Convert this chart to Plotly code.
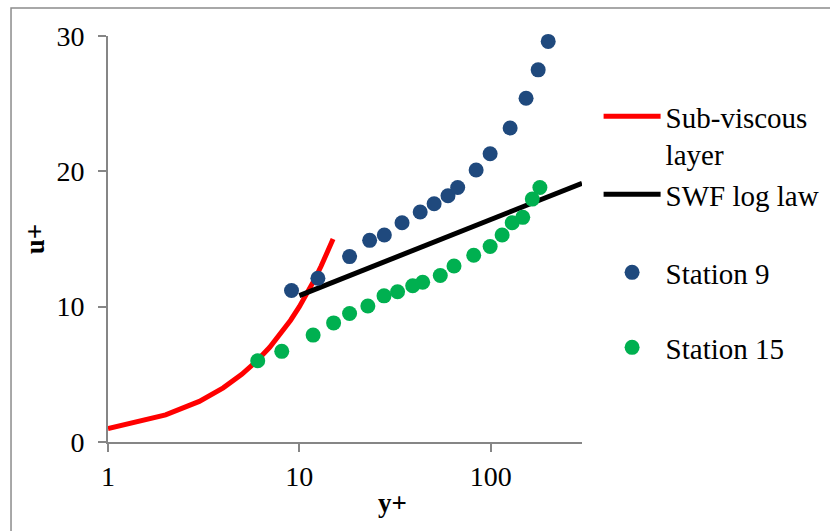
import plotly.graph_objects as go

# Sub-viscous layer (u+ = y+)
sub_y = [1, 2, 3, 4, 5, 6, 7, 8, 9, 10, 11, 12, 13, 14, 15]
sub_u = [1, 2, 3, 4, 5, 6, 7, 8, 9, 10, 11, 12, 13, 14, 15]

# SWF log law
swf_y = [10, 12, 15, 20, 25, 30, 40, 50, 60, 70, 80, 100, 120, 150, 200, 250, 300]
swf_u = [10.82, 11.26, 11.81, 12.51, 13.05, 13.50, 14.20, 14.75, 15.19, 15.57,
         15.89, 16.44, 16.88, 17.43, 18.13, 18.67, 19.12]

# Station 9
s9_y = [9.1, 12.5, 18.3, 23.3, 27.8, 34.4, 42.8, 50.6, 59.8, 67.2, 83.9, 99.3,
        126.3, 153, 177, 199.7]
s9_u = [11.2, 12.1, 13.7, 14.9, 15.3, 16.2, 17.0, 17.6, 18.2, 18.8, 20.1, 21.3,
        23.2, 25.4, 27.5, 29.6]

# Station 15
s15_y = [6.06, 8.09, 11.8, 15.1, 18.3, 22.8, 27.7, 32.6, 39.1, 44.1, 54.5, 64.3,
         81.5, 99.3, 114.7, 129.5, 147, 164.9, 180.7]
s15_u = [6.0, 6.7, 7.9, 8.8, 9.5, 10.05, 10.8, 11.1, 11.55, 11.8, 12.3, 13.0,
         13.8, 14.45, 15.3, 16.2, 16.6, 17.95, 18.8]

x_ticks = [1, 10, 100]
x_ticktext = ["1", "10", "100"]
y_ticks = [0, 10, 20, 30]

FONT = "Liberation Serif"
AXIS_COLOR = "#868686"

fig = go.Figure()
fig.add_trace(go.Scatter(x=sub_y, y=sub_u, mode="lines", name="Sub-viscous<br>layer",
                         line=dict(color="#FF0000", width=5), legend="legend"))
fig.add_trace(go.Scatter(x=swf_y, y=swf_u, mode="lines", name="SWF log law",
                         line=dict(color="#000000", width=5), legend="legend2"))
fig.add_trace(go.Scatter(x=s9_y, y=s9_u, mode="markers", name="Station 9", cliponaxis=False,
                         marker=dict(color="#1F497D", size=15), legend="legend3"))
fig.add_trace(go.Scatter(x=s15_y, y=s15_u, mode="markers", name="Station 15", cliponaxis=False,
                         marker=dict(color="#00B050", size=15), legend="legend4"))

def leg(y):
    return dict(x=1.035, y=y, xanchor="left", yanchor="top",
                font=dict(family=FONT, size=29, color="black"),
                valign="top", itemwidth=57, bgcolor="rgba(0,0,0,0)")

fig.update_layout(
    width=830, height=531,
    margin=dict(l=108, r=248, t=36, b=89, autoexpand=False),
    paper_bgcolor="white", plot_bgcolor="white",
    font=dict(family=FONT, size=28, color="black"),
    showlegend=True,
    legend=leg(0.8645), legend2=leg(0.6724), legend3=leg(0.4803), legend4=leg(0.2956),
    xaxis=dict(type="log", range=[0, 2.477], tickvals=x_ticks, ticktext=x_ticktext,
               showgrid=False, zeroline=False, showline=True, linecolor=AXIS_COLOR,
               linewidth=2, ticks="outside", ticklen=8, tickcolor=AXIS_COLOR,
               tickwidth=2, tickfont=dict(family=FONT, size=28)),
    yaxis=dict(range=[0, 30], tickvals=y_ticks, showgrid=False, zeroline=False,
               showline=True, linecolor=AXIS_COLOR, linewidth=2, ticks="outside",
               ticklen=8, tickcolor=AXIS_COLOR, tickwidth=2, ticklabelstandoff=8,
               tickfont=dict(family=FONT, size=28),
               title=dict(text="<b>u+</b>", font=dict(family=FONT, size=27), standoff=4)),
    annotations=[dict(text="<b>y+</b>", xref="paper", yref="paper", x=0.6, y=-0.15,
                      xanchor="center", yanchor="middle", showarrow=False,
                      font=dict(family=FONT, size=27))],
    shapes=[dict(type="rect", xref="paper", yref="paper", x0=-0.2046, x1=1.8,
                 y0=-0.4, y1=1.069, line=dict(color="#8C8C8C", width=1.5),
                 fillcolor="rgba(0,0,0,0)", layer="below")],
)

fig.write_html("out.html")
